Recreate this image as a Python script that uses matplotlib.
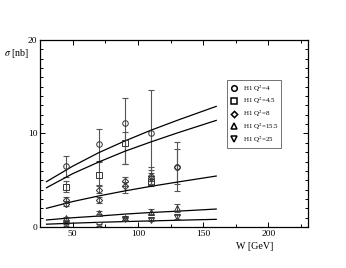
import matplotlib
matplotlib.use("Agg")
import matplotlib.pyplot as plt
from matplotlib.ticker import MultipleLocator

plt.rcParams["font.family"] = ["Liberation Serif", "DejaVu Serif"]
plt.rcParams["mathtext.fontset"] = "stix"

# curvas do modelo
W_curva = [30, 50, 70, 90, 110, 130, 160]
curva_q4 = [4.85, 6.5, 7.95, 9.2, 10.35, 11.4, 12.9]
curva_q45 = [4.2, 5.7, 6.95, 8.1, 9.1, 10.05, 11.4]
curva_q8 = [2.0, 2.72, 3.32, 3.86, 4.35, 4.8, 5.45]
curva_q155 = [0.75, 0.99, 1.17, 1.38, 1.55, 1.69, 1.92]
curva_q25 = [0.3, 0.41, 0.5, 0.58, 0.65, 0.72, 0.82]

# dados H1
W_q4 = [45, 70, 90, 110, 130]
sig_q4 = [6.5, 8.9, 11.1, 10.1, 6.45]
lo_q4 = [1.2, 1.8, 4.4, 4.6, 2.65]
hi_q4 = [1.1, 1.6, 2.7, 4.55, 2.6]

W_q45 = [45, 70, 90, 110]
sig_q45 = [4.3, 5.6, 8.95, 4.8]
lo_q45 = [0.6, 1.1, 2.25, 0.4]
hi_q45 = [0.6, 1.3, 1.25, 1.6]

W_q8 = [45, 45, 70, 70, 90, 90, 110, 110, 130]
sig_q8 = [2.9, 2.5, 4.0, 2.9, 4.9, 4.4, 5.5, 5.2, 6.45]
lo_q8 = [0.3, 0.3, 0.4, 0.3, 0.5, 0.8, 0.6, 0.6, 1.85]
hi_q8 = [0.3, 0.3, 0.4, 0.3, 0.5, 0.4, 0.6, 0.6, 1.85]

W_q155 = [45, 70, 90, 110, 130]
sig_q155 = [0.93, 1.55, 0.95, 1.65, 2.05]
lo_q155 = [0.15, 0.2, 0.15, 0.25, 0.4]
hi_q155 = [0.15, 0.2, 0.15, 0.25, 0.45]

W_q25 = [45, 70, 90, 110, 130]
sig_q25 = [0.25, 0.25, 0.85, 0.8, 1.05]
lo_q25 = [0.1, 0.1, 0.15, 0.15, 0.2]
hi_q25 = [0.1, 0.1, 0.15, 0.15, 0.2]

fig = plt.figure(figsize=(3.46, 2.68), dpi=100)
ax = fig.add_axes([0.1156, 0.153, 0.7734, 0.6978])

for y in [curva_q4, curva_q45, curva_q8, curva_q155, curva_q25]:
    ax.plot(W_curva, y, color="black", lw=0.9, zorder=3)

series = [
    (W_q4, sig_q4, lo_q4, hi_q4, "o", "H1 Q$^2$=4"),
    (W_q45, sig_q45, lo_q45, hi_q45, "s", "H1 Q$^2$=4.5"),
    (W_q8, sig_q8, lo_q8, hi_q8, "D", "H1 Q$^2$=8"),
    (W_q155, sig_q155, lo_q155, hi_q155, "^", "H1 Q$^2$=15.5"),
    (W_q25, sig_q25, lo_q25, hi_q25, "v", "H1 Q$^2$=25"),
]
handles = []
for W, s, lo, hi, m, lab in series:
    ax.errorbar(W, s, yerr=[lo, hi], fmt="none", ecolor="#555555",
                elinewidth=0.8, capsize=2.0, capthick=0.8, zorder=2)
    ms = 3.2 if m == "D" else 4.0
    h, = ax.plot(W, s, ls="none", marker=m, ms=ms, mfc="none", mec="#333333",
                 mew=0.7, zorder=4, label=lab)
    handles.append(h)

ax.set_xlim(25, 230)
ax.set_ylim(0, 20)
ax.xaxis.set_major_locator(MultipleLocator(50))
ax.xaxis.set_minor_locator(MultipleLocator(25))
ax.yaxis.set_major_locator(MultipleLocator(10))
ax.yaxis.set_minor_locator(MultipleLocator(1))
ax.tick_params(which="both", direction="in", top=True, right=True,
               labelsize=6.8, width=0.7, pad=2)
ax.tick_params(which="major", length=3.5)
ax.tick_params(which="minor", length=2)
for sp in ax.spines.values():
    sp.set_linewidth(0.9)

fig.text(0.012, 0.80, r"$\sigma$ [nb]", fontsize=7.2, va="center", ha="left")
fig.text(0.735, 0.082, "W [GeV]", fontsize=7.2, va="center", ha="center")

leg = ax.legend(handles=handles, loc="upper left",
                bbox_to_anchor=(0.700, 0.785), fontsize=5.0, frameon=True,
                fancybox=False, edgecolor="#333333", handlelength=1.0,
                handletextpad=0.8, borderpad=0.4, labelspacing=0.32,
                borderaxespad=0)
leg.get_frame().set_linewidth(0.6)
for lh in leg.legend_handles:
    lh.set_markeredgecolor("black")
    lh.set_markeredgewidth(1.1)

fig.savefig("out.png", dpi=100)
